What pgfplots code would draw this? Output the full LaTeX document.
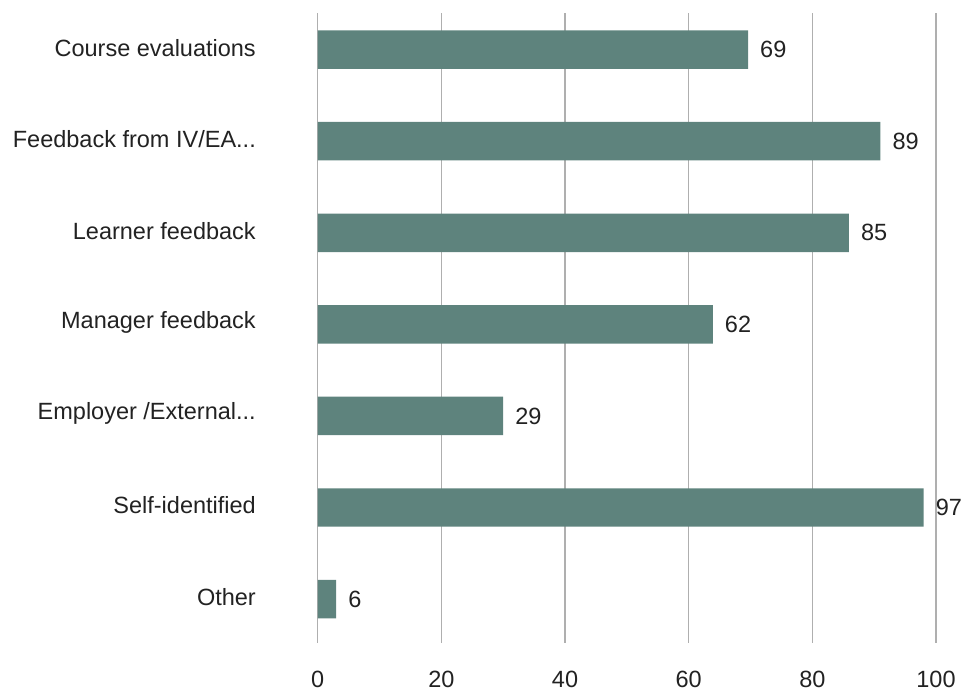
\documentclass[border=0pt]{standalone}
\usepackage{pgfplots}
\usepackage{pgfplotstable}
\pgfplotsset{compat=1.18}
\usepackage{fontspec}
\setmainfont{Liberation Sans}
\definecolor{barc}{RGB}{94,131,125}
\definecolor{gridc}{RGB}{175,175,175}
\definecolor{txt}{RGB}{34,34,34}
\newcommand\tdots{...}
\pgfplotstableread{
idx len lab
0 69.6 69
1 91.0 89
2 85.9 85
3 63.9 62
4 30.0 29
5 98.0 97
6 3.0 6
}\data
\pgfplotstableread{
x y
0 -0.4
0 6.48
}\zeroline
\begin{document}
\begin{tikzpicture}
\path[use as bounding box] (-317.7bp,-56bp) rectangle (652.3bp,643bp);
\begin{axis}[
  at={(0,0)}, anchor=south west,
  scale only axis, width=618.3bp, height=630bp,
  xmin=0, xmax=100, ymin=-0.4, ymax=6.48, y dir=reverse,
  axis line style={draw=none}, major tick length=0pt,
  xtick={0,20,40,60,80,100}, xmajorgrids, grid style={gridc, line width=1.3bp},
  ytick={0,1,2,3,4,5,6},
  yticklabels={{Course evaluations}, {Feedback from IV/EA\tdots}, {Learner feedback}, {Manager feedback}, {Employer /External\tdots}, {Self-identified}, {Other}},
  font=\fontsize{23.5bp}{28bp}\selectfont,
  /pgf/number format/assume math mode=true,
  ticklabel style={text=txt},
  yticklabel style={inner sep=0pt, xshift=-61.7bp, yshift=2bp},
  xticklabel style={inner sep=0pt, yshift=-28bp},
]
\addplot[xbar, bar width=0.42, fill=barc, draw=none,
  nodes near coords, point meta=explicit symbolic,
  nodes near coords style={anchor=west, inner sep=0pt, xshift=12bp, text=txt, font=\fontsize{23.5bp}{28bp}\selectfont}]
  table[x=len, y=idx, meta=lab] {\data};
\addplot[draw=gridc, line width=1.3bp, no marks] table[x=x, y=y] {\zeroline};
\end{axis}
\end{tikzpicture}
\end{document}
